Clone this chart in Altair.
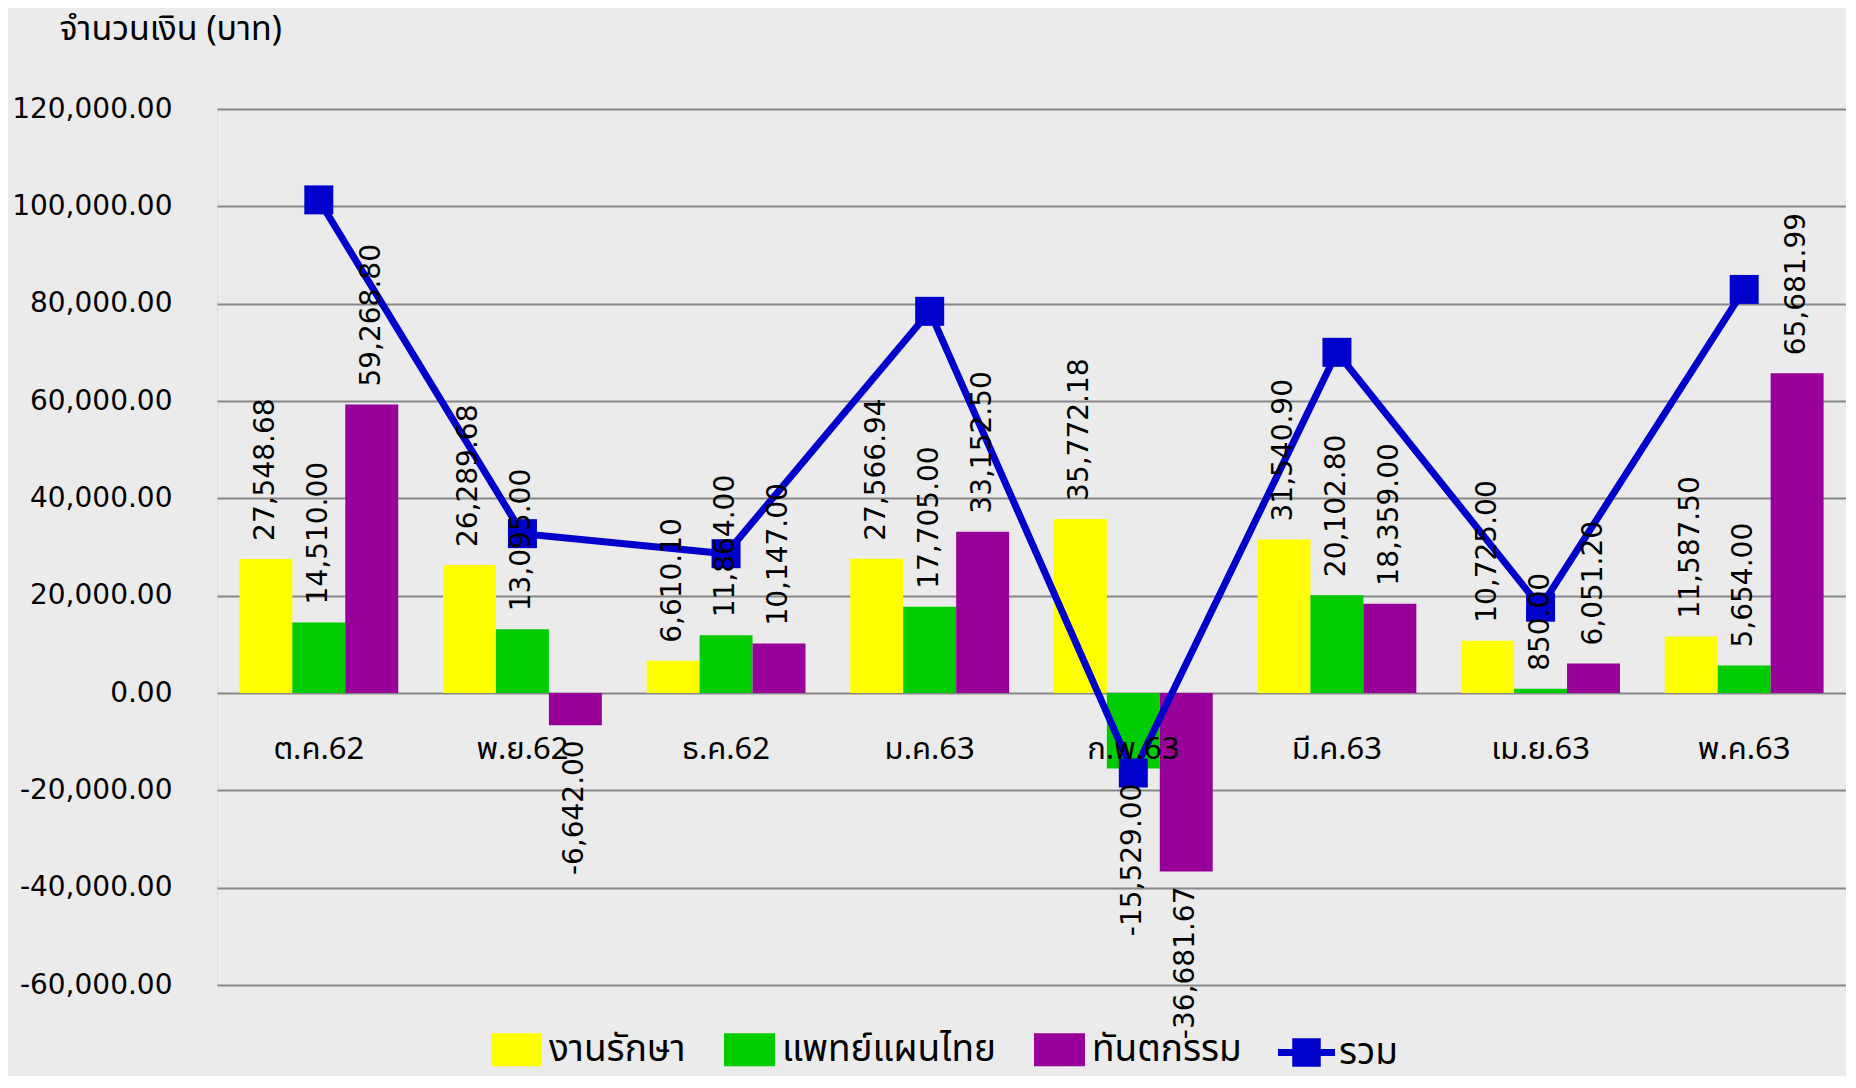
import altair as alt
import pandas as pd

months = ["ต.ค.62", "พ.ย.62", "ธ.ค.62", "ม.ค.63", "ก.พ.63", "มี.ค.63", "เม.ย.63", "พ.ค.63"]
series_names = ["งานรักษา", "แพทย์แผนไทย", "ทันตกรรม"]
series_colors = ["#FFFF00", "#00CC00", "#990099"]

treatment = [27548.68, 26289.68, 6610.10, 27566.94, 35772.18, 31540.90, 10725.00, 11587.50]
thai_med = [14510.00, 13095.00, 11864.00, 17705.00, -15529.00, 20102.80, 850.00, 5654.00]
dental = [59268.80, -6642.00, 10147.00, 33152.50, -36681.67, 18359.00, 6051.20, 65681.99]
total = [101327.48, 32742.68, 28621.10, 78424.44, -16438.49, 70002.70, 17626.20, 82923.49]
total_name = "รวม"

y_ticks = [-60000, -40000, -20000, 0, 20000, 40000, 60000, 80000, 100000, 120000]

THAI = "Noto Sans Thai, Tahoma, Noto Sans, DejaVu Sans, sans-serif"
NUM = "DejaVu Sans, Verdana, sans-serif"

rows = []
for name, vals in zip(series_names, [treatment, thai_med, dental]):
    for m, v in zip(months, vals):
        rows.append({"month": m, "series": name, "value": v})
bars_df = pd.DataFrame(rows)
line_df = pd.DataFrame({"month": months, "total": total, "name": [total_name] * len(months)})
cat_df = pd.DataFrame({"month": months})

x_enc = alt.X("month:N", sort=months, axis=None,
              scale=alt.Scale(paddingInner=0.22, paddingOuter=0.11))
xoff = alt.XOffset("series:N", sort=series_names,
                   scale=alt.Scale(paddingInner=0, paddingOuter=0))
y_scale = alt.Scale(domain=[-60000, 120000], nice=False, zero=False)

bars = alt.Chart(bars_df).mark_bar().encode(
    x=x_enc,
    xOffset=xoff,
    y=alt.Y("value:Q", scale=y_scale,
            axis=alt.Axis(values=y_ticks, format=",.2f", grid=True,
                          gridColor="#888888", gridWidth=2, gridOpacity=1,
                          domain=False, ticks=False, labelPadding=45,
                          labelFontSize=28, labelFont=NUM, labelColor="#000000",
                          title="จำนวนเงิน (บาท)", titleAngle=0, titleX=-158, titleY=-80,
                          titleAlign="left", titleBaseline="middle",
                          titleFont=THAI, titleFontSize=34, titleFontWeight="normal",
                          titleColor="#000000")),
    color=alt.Color("series:N", sort=series_names,
                    scale=alt.Scale(domain=series_names, range=series_colors),
                    legend=alt.Legend(title=None, orient="none", legendX=274, legendY=915,
                                      direction="horizontal",
                                      symbolType="M-1,-0.65H1V0.65H-1Z", symbolSize=2601,
                                      symbolStrokeWidth=0, labelFont=THAI, labelFontSize=37,
                                      labelColor="#000000", labelOffset=7, columnPadding=38,
                                      labelLimit=400)),
)

line = alt.Chart(line_df).mark_line(strokeWidth=7).encode(
    x=x_enc,
    y=alt.Y("total:Q", scale=y_scale),
    stroke=alt.Stroke("name:N", scale=alt.Scale(domain=[total_name], range=["#0000CC"]),
                      legend=alt.Legend(title=None, orient="none", legendX=1061, legendY=915,
                                        symbolType="M-1,-0.12H1V0.12H-1Z M-0.5,-0.5H0.5V0.5H-0.5Z",
                                        symbolSize=3249, symbolFillColor="#0000CC",
                                        symbolStrokeWidth=0, labelFont=THAI, labelFontSize=37,
                                        labelColor="#000000", labelOffset=4)),
)

markers = alt.Chart(line_df).mark_square(size=841, color="#0000CC", opacity=1).encode(
    x=x_enc,
    y=alt.Y("total:Q", scale=y_scale),
)

pos_labels = alt.Chart(bars_df).transform_filter("datum.value >= 0").transform_calculate(
    lab="format(datum.value, ',.2f')"
).mark_text(angle=270, align="left", baseline="middle", dx=18,
            font=NUM, fontSize=28, color="#000000").encode(
    x=x_enc, xOffset=xoff, y=alt.Y("value:Q", scale=y_scale), text="lab:N"
)

neg_labels = alt.Chart(bars_df).transform_filter("datum.value < 0").transform_calculate(
    lab="format(datum.value, ',.2f')"
).mark_text(angle=270, align="right", baseline="middle", dx=-15,
            font=NUM, fontSize=28, color="#000000").encode(
    x=x_enc, xOffset=xoff, y=alt.Y("value:Q", scale=y_scale), text="lab:N"
)

cats = alt.Chart(cat_df).mark_text(dy=57, font=THAI, fontSize=31, color="#000000",
                                   baseline="middle").encode(
    x=x_enc, y=alt.datum(0, scale=y_scale), text="month:N"
)

chart = alt.layer(bars, line, markers, pos_labels, neg_labels, cats).resolve_scale(
    y="shared"
).properties(
    width=1629, height=876,
    autosize=alt.AutoSizeParams(type="none"),
    padding={"left": 209, "top": 101, "right": 0, "bottom": 91},
    background="#EBEBEB",
).configure_view(strokeWidth=0).configure(
    locale={"number": {"decimal": ".", "thousands": ",", "grouping": [3],
                       "currency": ["", ""], "minus": "-"}}
)

chart.save("out.html", embed_options={"renderer": "svg", "actions": False})
